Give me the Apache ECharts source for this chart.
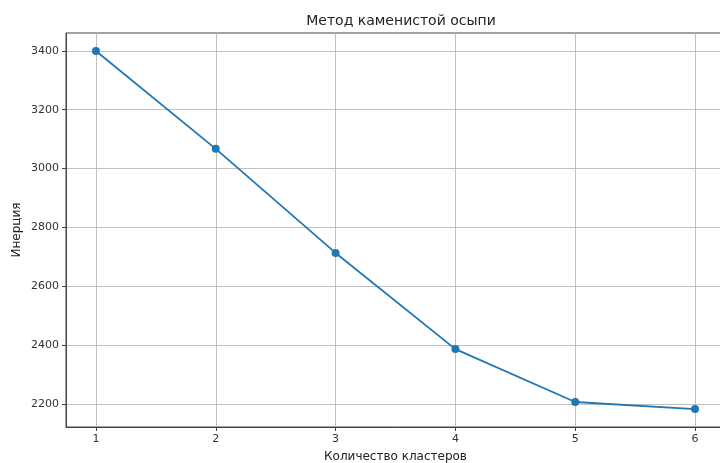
<!DOCTYPE html>
<html><head><meta charset="utf-8">
<script src="https://cdn.jsdelivr.net/npm/echarts@6/dist/echarts.min.js"></script>
<style>html,body{margin:0;padding:0;background:#fff}#c{width:720px;height:463px}</style>
</head><body><div id="c"></div>
<script>
const clusters = [1, 2, 3, 4, 5, 6];
const inertia = [3400, 3067, 2713, 2386, 2206, 2182];
const xTicks = [1, 2, 3, 4, 5, 6];
const yTicks = [2200, 2400, 2600, 2800, 3000, 3200, 3400];
const titleText = 'Метод каменистой осыпи';
const xName = 'Количество кластеров';
const yName = 'Инерция';

const font = 'DejaVu Sans';
const chart = echarts.init(document.getElementById('c'));
chart.setOption({
  animation: false,
  title: { text: titleText, left: 396, top: 9, textAlign: 'center',
    textStyle: { fontFamily: font, fontSize: 14, fontWeight: 'normal', color: '#222' } },
  grid: { left: 66, top: 33, width: 659, height: 394, outerBoundsMode: 'none', containLabel: false,
    show: true, borderColor: '#444', borderWidth: 1, backgroundColor: 'transparent' },
  xAxis: {
    type: 'value', min: 0.75, max: 6.25,
    name: xName, nameLocation: 'middle', nameGap: 24, nameMoveOverlap: false,
    nameTextStyle: { fontFamily: font, fontSize: 12, color: '#222' },
    axisLine: { show: true, onZero: false, lineStyle: { color: '#444', width: 1 } },
    axisTick: { show: true, customValues: xTicks, length: 4, lineStyle: { color: '#444' } },
    axisLabel: { customValues: xTicks, fontFamily: font, fontSize: 11, color: '#333', margin: 7 },
    splitLine: { show: true, lineStyle: { color: '#b0b0b0', width: 0.8 } }
  },
  yAxis: {
    type: 'value', min: 2121, max: 3461,
    name: yName, nameLocation: 'middle', nameGap: 43, nameRotate: 90, nameMoveOverlap: false,
    nameTextStyle: { fontFamily: font, fontSize: 12, color: '#222' },
    axisLine: { show: true, onZero: false, lineStyle: { color: '#444', width: 1 } },
    axisTick: { show: true, customValues: yTicks, length: 4, lineStyle: { color: '#444' } },
    axisLabel: { customValues: yTicks, formatter: v => String(v), fontFamily: font, fontSize: 11, color: '#333', margin: 7 },
    splitLine: { show: true, lineStyle: { color: '#b0b0b0', width: 0.8 } }
  },
  series: [{
    type: 'line',
    data: clusters.map((c, i) => [c, inertia[i]]),
    symbol: 'circle', symbolSize: 8,
    itemStyle: { color: '#1f77b4' },
    lineStyle: { color: '#1f77b4', width: 1.8 },
    clip: false
  }]
});
</script></body></html>
